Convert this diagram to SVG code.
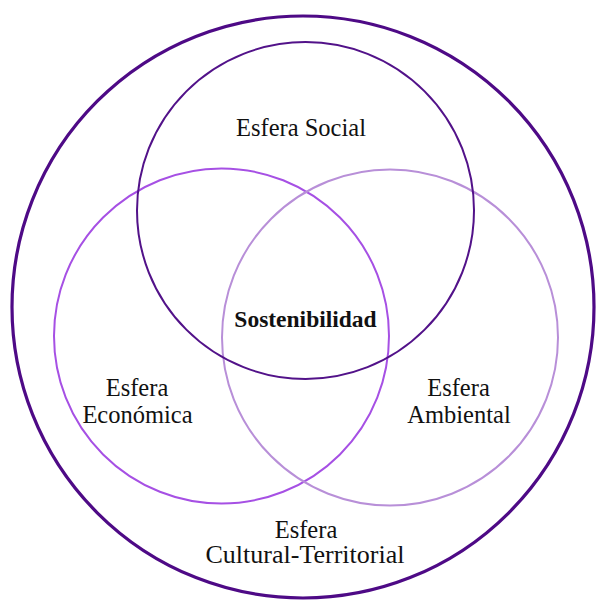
<svg xmlns="http://www.w3.org/2000/svg" width="599" height="603" viewBox="0 0 599 603">
<style>
.c{fill:none}
.t{font-family:"Liberation Serif","Times New Roman",serif;font-size:24.5px;fill:#111;text-anchor:middle}
.b{font-weight:bold;font-size:23.5px}
</style>
<rect width="599" height="603" fill="#fff"/>
<g id="cultural">
<circle class="c" cx="303" cy="307" r="291" stroke="#4e0a86" stroke-width="3.2"/>
<text class="t" x="306" y="538">Esfera</text>
<text class="t" x="305" y="563" textLength="199" lengthAdjust="spacingAndGlyphs">Cultural-Territorial</text>
</g>
<g id="economica">
<circle class="c" cx="221.5" cy="336" r="167.5" stroke="#a650e4" stroke-width="2"/>
<text class="t" x="137" y="396">Esfera</text>
<text class="t" x="137.5" y="423">Económica</text>
</g>
<g id="ambiental">
<circle class="c" cx="390" cy="337.5" r="168" stroke="#b88fd8" stroke-width="2"/>
<text class="t" x="458.5" y="396">Esfera</text>
<text class="t" x="459" y="423">Ambiental</text>
</g>
<g id="social">
<circle class="c" cx="305.5" cy="210.5" r="168.5" stroke="#521289" stroke-width="2"/>
<text class="t" x="301" y="136">Esfera Social</text>
</g>
<g id="sostenibilidad">
<text class="t b" x="305.5" y="327">Sostenibilidad</text>
</g>
<g id="connectors"></g>
</svg>
